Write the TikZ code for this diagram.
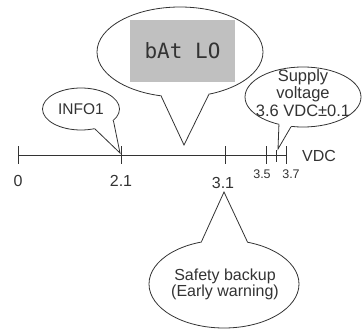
\documentclass[tikz,border=0pt]{standalone}
\usepackage{fontspec}
\setmainfont{Liberation Sans}
\newfontfamily\lcdfont{DejaVu Sans Mono}
\usetikzlibrary{shapes.geometric,calc}
\definecolor{ln}{HTML}{333333}
\definecolor{lcdgray}{HTML}{C0C0C0}
\tikzset{
  bubble/.style={ellipse, draw=ln, line width=0.8pt, fill=white, inner sep=0pt},
  bubtext/.style={align=center, text=ln, inner sep=0pt},
  tail/.style={draw=ln, line width=0.8pt},
  axis/.style={draw=ln, line width=0.8pt},
  lab/.style={font=\fontsize{16}{18}\selectfont, text=ln},
  slab/.style={font=\fontsize{12.5}{14}\selectfont, text=ln},
}
\begin{document}
\begin{tikzpicture}[x=1pt,y=-1pt]
\useasboundingbox (0,0) rectangle (363,329);
% axis
\coordinate (a0) at (18,155);
\coordinate (aend) at (286,155);
\draw[axis] (a0) -- (aend);
\foreach \x in {18,121,225,266,286} \draw[axis] (\x,146) -- (\x,164);
\draw[axis] (276,150) -- (276,162);
% axis labels
\node[lab] (l0) at (18,181) {0};
\node[lab] (l21) at (121,181) {2.1};
\node[lab] (l31) at (223,183) {3.1};
\node[slab] (l35) at (262,174) {3.5};
\node[slab] (l37) at (291,174) {3.7};
\node[lab] (vdc) at (319,156) {VDC};
% tips
\coordinate (tipbig) at (184,145);
\coordinate (tipinfo) at (120,153);
\coordinate (tipsup) at (278,149);
\coordinate (tipsaf) at (224,192);
% big bubble
\node[bubble, minimum width=166, minimum height=90] (big) at (180,52) {};
\fill[white] ($(big.center)!0.85!(big.247)$) -- (big.247) -- (tipbig) -- (big.304) -- ($(big.center)!0.85!(big.304)$) -- cycle;
\draw[tail] (big.247) -- (tipbig) -- (big.304);
\node[fill=lcdgray, minimum width=105, minimum height=62, inner sep=0pt] (lcd) at (182.5,51) {};
\node[text=ln, font=\lcdfont\fontsize{21}{23}\selectfont] (lcdtext) at (lcd.center) {bAt LO};
% INFO1 bubble
\node[bubble, minimum width=77, minimum height=42] (info) at (81,109) {};
\fill[white] ($(info.center)!0.85!(info.305)$) -- (info.305) -- (tipinfo) -- (info.340) -- ($(info.center)!0.85!(info.340)$) -- cycle;
\draw[tail] (info.305) -- (tipinfo) -- (info.340);
\node[bubtext, font=\fontsize{15.5}{17}\selectfont] (infotext) at (info.center) {INFO1};
% supply bubble
\node[bubble, minimum width=116, minimum height=60] (sup) at (303,97) {};
\fill[white] ($(sup.center)!0.85!(sup.229)$) -- (sup.229) -- (tipsup) -- (sup.248) -- ($(sup.center)!0.85!(sup.248)$) -- cycle;
\draw[tail] (sup.229) -- (tipsup) -- (sup.248);
\node[bubtext, font=\fontsize{16.5}{17.5}\selectfont] (suptext) at (303,93) {Supply\\voltage\\3.6 VDC±0.1};
% safety bubble
\node[bubble, minimum width=150, minimum height=88] (saf) at (224,284) {};
\fill[white] ($(saf.center)!0.85!(saf.118)$) -- (saf.118) -- (tipsaf) -- (saf.61) -- ($(saf.center)!0.85!(saf.61)$) -- cycle;
\draw[tail] (saf.118) -- (tipsaf) -- (saf.61);
\node[bubtext, font=\fontsize{16}{14}\selectfont] (saftext) at (225,284) {Safety backup\\(Early warning)};
\end{tikzpicture}
\end{document}
